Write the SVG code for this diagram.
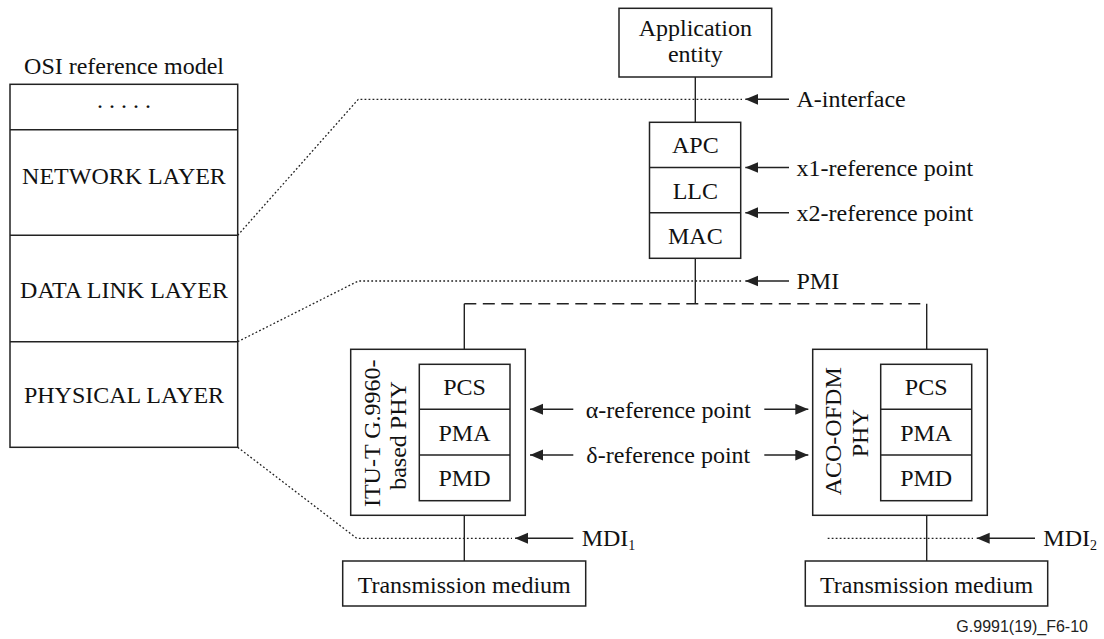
<svg xmlns="http://www.w3.org/2000/svg" width="1104" height="639" viewBox="0 0 1104 639">
<defs>
<style>
.box{fill:#fff;stroke:#222;stroke-width:1.5}
.ln{stroke:#222;stroke-width:1.4;fill:none}
.dot{stroke:#222;stroke-width:1.3;fill:none;stroke-dasharray:1.8 2.2}
.dash{stroke:#222;stroke-width:1.5;fill:none;stroke-dasharray:12 6.5}
.t{font-family:"Liberation Serif","Times New Roman",serif;font-size:24px;fill:#111}
.c{text-anchor:middle}
.arr{stroke:#222;stroke-width:1.4;fill:none;marker-end:url(#ah)}
.foot{font-family:"Liberation Sans",Arial,sans-serif;font-size:16px;fill:#222;text-anchor:end}
</style>
<marker id="ah" markerUnits="userSpaceOnUse" markerWidth="14" markerHeight="12" refX="13" refY="5.5" orient="auto"><path d="M0,0 L13,5.5 L0,11 z" fill="#222"/></marker>
</defs>
<rect width="1104" height="639" fill="#fff"/>

<g id="connectors">
<path class="dot" d="M237.7,235.3 L358.3,99.3 L742,99.3"/>
<path class="dot" d="M237.7,341.7 L358.3,281 L742,281"/>
<path class="dot" d="M237.7,447.3 L356.7,538.3 L512,538.3"/>
<path class="dot" d="M827.7,538.3 L973,538.3"/>
<path class="ln" d="M695.3,77 V122.3"/>
<path class="ln" d="M695.3,258.3 V303.7"/>
<path class="dash" d="M464.3,303.7 H926.7"/>
<path class="ln" d="M464.3,303.7 V364.3"/>
<path class="ln" d="M926.7,303.7 V364.3"/>
<path class="ln" d="M464.3,500.7 V561"/>
<path class="ln" d="M926.7,500.7 V561"/>
<line class="arr" x1="789" y1="99.3" x2="745.3" y2="99.3"/>
<line class="arr" x1="789" y1="167.5" x2="745.3" y2="167.5"/>
<line class="arr" x1="789" y1="212.7" x2="745.3" y2="212.7"/>
<line class="arr" x1="789" y1="281" x2="745.3" y2="281"/>
<line class="arr" x1="573.3" y1="409.3" x2="530" y2="409.3"/>
<line class="arr" x1="764.3" y1="409.3" x2="808.3" y2="409.3"/>
<line class="arr" x1="573.3" y1="455" x2="530" y2="455"/>
<line class="arr" x1="764.3" y1="455" x2="808.3" y2="455"/>
<line class="arr" x1="573.3" y1="538.3" x2="515" y2="538.3"/>
<line class="arr" x1="1035" y1="538.3" x2="976.7" y2="538.3"/>
</g>

<g id="osi-model">
<text class="t c" x="124" y="74">OSI reference model</text>
<rect class="box" x="10" y="84.3" width="227.7" height="363"/>
<path class="ln" d="M10,129.7 H237.7 M10,235.3 H237.7 M10,341.7 H237.7"/>
<text class="t c" x="124" y="108">. . . . .</text>
<text class="t c" x="124" y="184">NETWORK LAYER</text>
<text class="t c" x="124" y="297.5">DATA LINK LAYER</text>
<text class="t c" x="124" y="403">PHYSICAL LAYER</text>
</g>

<g id="application-entity">
<rect class="box" x="619" y="8.3" width="152.7" height="68.7"/>
<text class="t c" x="695.3" y="36">Application</text>
<text class="t c" x="695.3" y="62">entity</text>
</g>

<g id="mac-stack">
<rect class="box" x="649.5" y="122.3" width="91.2" height="136"/>
<path class="ln" d="M649.5,167.5 H740.7 M649.5,212.7 H740.7"/>
<text class="t c" x="695.3" y="153">APC</text>
<text class="t c" x="695.3" y="198.5">LLC</text>
<text class="t c" x="695.3" y="244">MAC</text>
</g>

<g id="phy-g9960">
<rect class="box" x="350.7" y="349.3" width="174.6" height="166"/>
<rect class="box" x="419.3" y="364.3" width="90.7" height="136.4"/>
<path class="ln" d="M419.3,409.3 H510 M419.3,455 H510"/>
<text class="t c" x="464.5" y="395">PCS</text>
<text class="t c" x="464.5" y="440.5">PMA</text>
<text class="t c" x="464.5" y="486">PMD</text>
<text class="t c" transform="translate(379.5,433.3) rotate(-90)">ITU-T G.9960-</text>
<text class="t c" transform="translate(406,435.5) rotate(-90)">based PHY</text>
</g>

<g id="phy-aco-ofdm">
<rect class="box" x="812.7" y="349.3" width="174.6" height="166"/>
<rect class="box" x="880.7" y="364.3" width="91" height="136.4"/>
<path class="ln" d="M880.7,409.3 H971.7 M880.7,455 H971.7"/>
<text class="t c" x="926.2" y="395">PCS</text>
<text class="t c" x="926.2" y="440.5">PMA</text>
<text class="t c" x="926.2" y="486">PMD</text>
<text class="t c" transform="translate(841,431.3) rotate(-90)">ACO-OFDM</text>
<text class="t c" transform="translate(867.5,433.3) rotate(-90)">PHY</text>
</g>

<g id="medium-1">
<rect class="box" x="342.7" y="561" width="243" height="45"/>
<text class="t c" x="464.2" y="592.5">Transmission medium</text>
</g>
<g id="medium-2">
<rect class="box" x="805.3" y="561" width="242.4" height="45"/>
<text class="t c" x="926.5" y="592.5">Transmission medium</text>
</g>

<g id="labels">
<text class="t" x="796.5" y="107">A-interface</text>
<text class="t" x="796.5" y="175.5">x1-reference point</text>
<text class="t" x="796.5" y="220.5">x2-reference point</text>
<text class="t" x="796.5" y="289">PMI</text>
<text class="t c" x="668.3" y="417.5">α-reference point</text>
<text class="t c" x="668.3" y="463">δ-reference point</text>
<text class="t" x="581.7" y="546">MDI<tspan font-size="14" dy="4">1</tspan></text>
<text class="t" x="1043.3" y="546">MDI<tspan font-size="14" dy="4">2</tspan></text>
<text class="foot" x="1088" y="631.5">G.9991(19)_F6-10</text>
</g>
</svg>
